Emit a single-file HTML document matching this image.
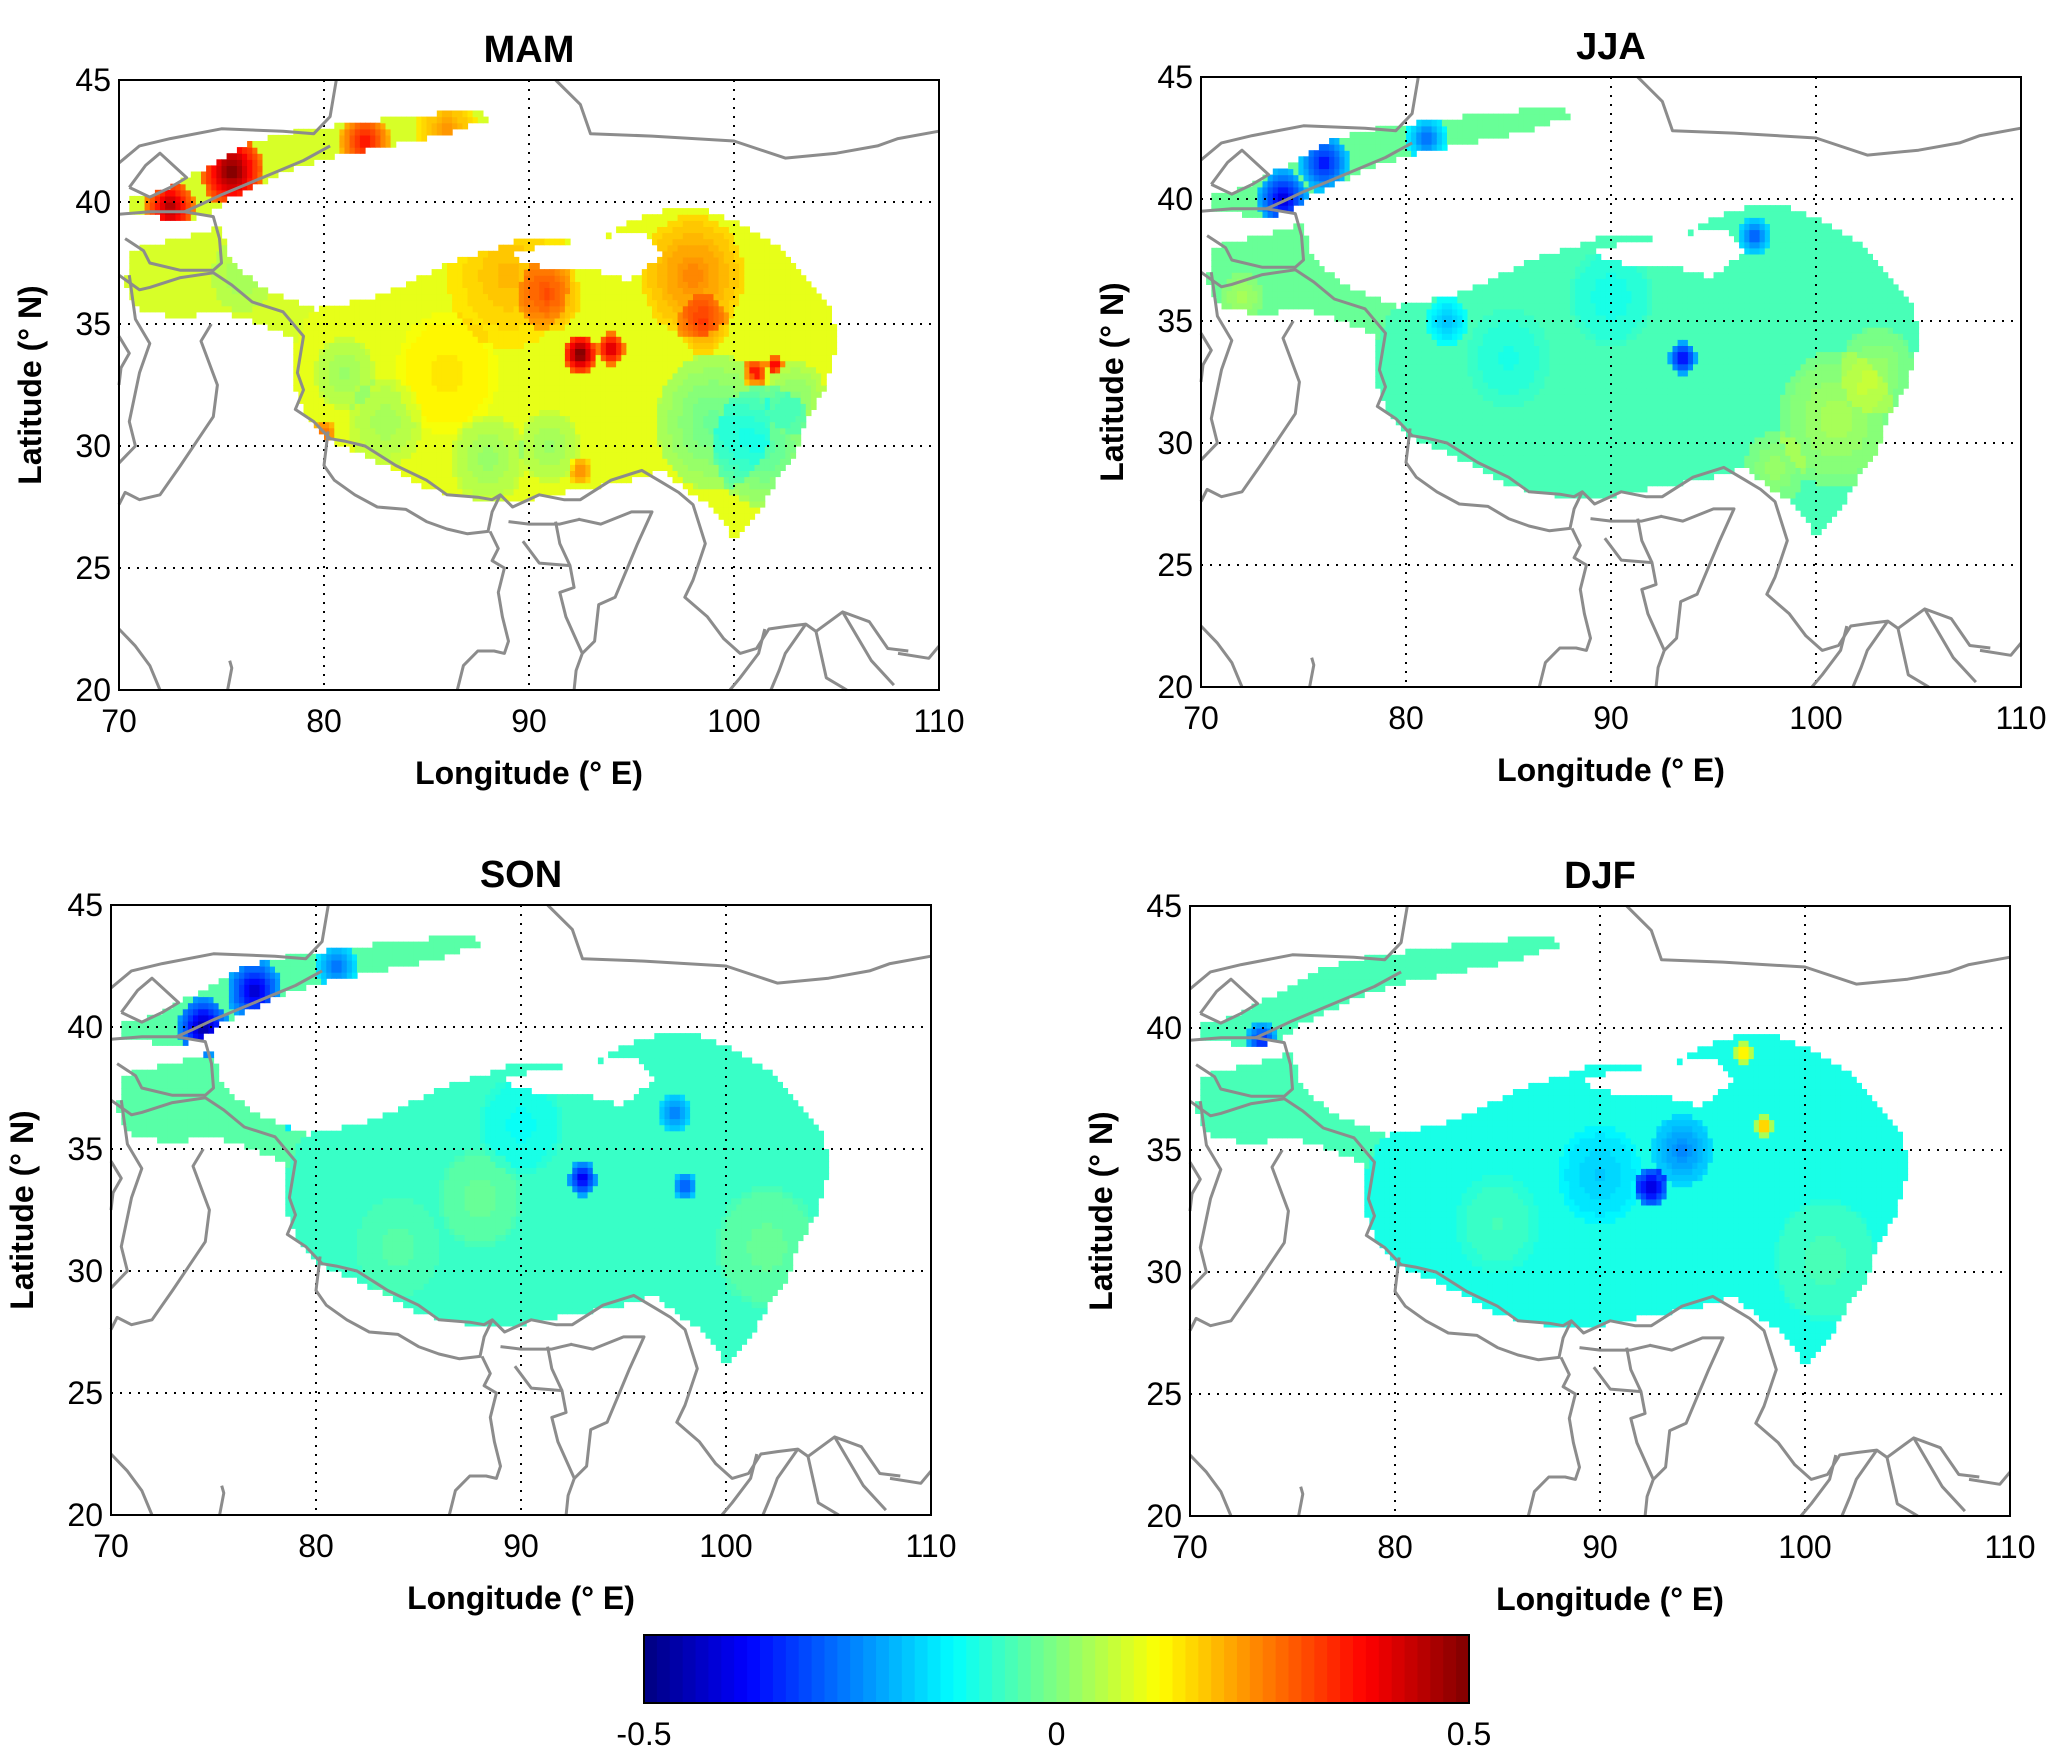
<!DOCTYPE html>
<html><head><meta charset="utf-8"><style>
body{margin:0;background:#fff;width:2067px;height:1764px;overflow:hidden}
svg{display:block;font-family:"Liberation Sans",Arial,sans-serif}
</style></head><body>
<svg id="fig" width="2067" height="1764" viewBox="0 0 2067 1764" xmlns="http://www.w3.org/2000/svg"></svg>
<script>
const seasons = ["MAM","JJA","SON","DJF"];
const seasonBase = [0.10, -0.05, -0.07, -0.1];
const xTicks = [70,80,90,100,110];
const yTicks = [20,25,30,35,40,45];
const cbTicks = [-0.5, 0, 0.5];
// plateau outline (lon,lat)
const plateauLon = [79.5,82,84,86,88,90,91.5,93,95,97,99,100.5,102,103.5,104.8,105,104.5,103.5,103,102,101,100,99,98,96.5,95,93,91,89,87,85,83,81.5,80,79,78.5,78.5,79];
const plateauLat = [35.6,36,36.6,37.5,38,38.6,38.6,38.3,39.2,39.8,39.6,39,38.3,37,35.5,34,32.5,31,29.5,28.5,27,26.2,27.5,28,29,28.6,28.3,28,27.7,27.9,28.3,29.2,29.8,30.3,31.5,32.5,34,35];
// Qaidam gap
const holeLon = [89,91,93,95,96.5,95.5,93,90.5];
const holeLat = [37.8,37.2,37.2,36.8,37.8,38.8,38.5,38.2];
// Tian Shan strip
const stripLon = [70.5,72.5,74,75.5,78,80,83,86,88,87.5,84,81,78,76,74,72,70.5];
const stripLat = [39.6,39.3,39.4,40.2,41.2,41.8,42.3,42.8,43.4,43.8,43.5,43.2,42.8,42.3,41.3,40.4,40.2];
// Pamir / Karakoram strip
const strip2Lon = [70.5,73,75,75.5,77,79,80,80,79,77,75,73,71,70.3];
const strip2Lat = [38,38.5,39,37.5,36.5,35.8,35.5,34.5,34.2,35,35.5,35.3,35.5,36.5];
// anomaly blobs per season: lon, lat, value, radius(deg)
const blobsMAM = [[72.5,39.8,0.4,1.2],[75.5,41.3,0.45,1.5],[82,42.5,0.3,1.2],[86,43,0.15,1.5],[92.5,33.8,0.45,0.8],[94,34,0.35,0.7],[89,37,0.1,3],[91,36.2,0.15,1.5],[98,37,0.15,2.5],[98.5,35,0.15,1.2],[101,33,0.3,0.6],[102,33.3,0.35,0.4],[99,31,-0.13,2.8],[101.5,30,-0.15,2.5],[103,32,-0.1,1.5],[86,33,0.05,2.5],[81,33,-0.08,1.5],[83,31,-0.07,1.8],[88,29.5,-0.08,1.8],[91,30,-0.08,1.5],[92.5,29,0.15,0.6],[80,30.5,0.2,0.6],[76,37,-0.05,1.5]];
const blobsJJA = [[74,40,-0.4,1.2],[76,41.5,-0.35,1.2],[81,42.5,-0.25,1],[93.5,33.5,-0.35,0.7],[97,38.5,-0.25,0.8],[85,33.5,-0.05,2],[101,31,0.1,2.8],[103,33,0.08,1.8],[98,29,0.08,1.5],[77.5,33,0.12,0.6],[82,35,-0.15,1],[90,36,-0.06,2],[72,36,0.08,1]];
const blobsSON = [[74.5,40,-0.45,1.2],[77,41.5,-0.4,1.3],[81,42.5,-0.25,1],[93,33.8,-0.35,0.7],[98,33.5,-0.25,0.6],[97.5,36.5,-0.2,0.8],[79,37,-0.25,1.2],[88,33,0.05,2],[102,31,0.05,2.5],[84,31,0.03,2],[90,36,-0.05,2]];
const blobsDJF = [[73.5,39.5,-0.3,0.8],[79,38,-0.35,0.8],[92.5,33.5,-0.35,0.8],[94,35,-0.15,1.5],[97,39,0.3,0.5],[98,36,0.35,0.4],[90,34,-0.08,2],[101,30.5,0.05,2.5],[85,32,0.04,2]];
const blobSets = [blobsMAM, blobsJJA, blobsSON, blobsDJF];

const panels = [{l:119,r:939,t:80,b:690},{l:1201,r:2021,t:77,b:687},{l:111,r:931,t:905,b:1515},{l:1190,r:2010,t:906,b:1516}];
const NS="http://www.w3.org/2000/svg";
const svg=document.getElementById('fig');
function el(tag,attrs,parent){const e=document.createElementNS(NS,tag);for(const k in attrs)e.setAttribute(k,attrs[k]);(parent||svg).appendChild(e);return e;}
function jet(v){let t=(v+0.5);t=Math.max(0,Math.min(0.999,t));t=(Math.floor(t*64)+0.5)/64;
 const c=x=>Math.round(255*Math.max(0,Math.min(1,x)));
 return `rgb(${c(1.5-Math.abs(4*t-3))},${c(1.5-Math.abs(4*t-2))},${c(1.5-Math.abs(4*t-1))})`;}
function inPoly(x,y,xs,ys){let c=false;for(let i=0,j=xs.length-1;i<xs.length;j=i++){if(((ys[i]>y)!=(ys[j]>y))&&(x<(xs[j]-xs[i])*(y-ys[i])/(ys[j]-ys[i])+xs[i]))c=!c;}return c;}
const borders=[
 [[91.3,45],[92.5,44],[93,42.8],[96,42.7],[100,42.5],[102.5,41.8],[105,42],[107,42.3],[108,42.6],[110,42.9]],
 [[70,41.6],[71,42.3],[72.5,42.6],[75,43],[78,42.9],[79.5,42.8],[80.3,43.5],[80.6,45]],
 [[73.2,39.6],[74,39.9],[75,40.3],[77,41],[79,41.7],[80.3,42.3]],
 [[70.5,40.6],[71.3,41.5],[72,42],[73.3,41],[72.5,40.6],[71.5,40.2],[70.5,40.6]],
 [[70,39.5],[71.5,39.6],[73.2,39.6],[74.6,39.4],[74.9,38.5],[75,37.5],[74.6,37.2],[73,37.2],[71.5,37.5],[71.2,38],[70.3,38.5]],
 [[70,37],[71,36.4],[71.5,36.5],[73,36.9],[74.6,37.1],[75.5,36.6],[76.5,35.9],[78,35.5],[79,34.5],[78.7,33],[79,32.3],[78.6,31.5],[79.5,31],[80.3,30.3],[81,30.2],[82,30],[83.5,29.2],[85,28.6],[86,28],[87.5,27.9],[88.2,27.8],[88.6,28],[89.2,27.5],[90.5,28],[91.7,27.8],[92.5,27.8],[94,28.6],[95.5,29],[96.5,28.5],[97.3,28.1],[98,27.6],[98.6,26],[98,24.5],[97.6,23.8],[98.7,23],[99.5,22.1],[100.3,21.5],[101.1,21.7],[101.7,22.5],[102.5,22.6],[103.5,22.7],[104,22.4],[105.3,23.2],[106.6,22.8],[107.5,21.7],[108.5,21.6]],
 [[70,34.5],[70.5,33.8],[70.1,33.2],[70,32.5]],
 [[70.5,37],[70.8,35.2],[71.5,34.2],[71,33],[70.5,31],[70.8,30],[70,29.3]],
 [[74.5,35],[74,34.3],[74.8,32.5],[74.6,31.2],[73.8,30.2],[73,29.2],[72,28],[71,27.8],[70.3,28.1],[70,27.6]],
 [[80.2,30.6],[80,29.2],[80.5,28.6],[81.5,28],[82.6,27.5],[84,27.4],[85,26.9],[86,26.6],[87,26.4],[88,26.5],[88.2,27.3],[88.6,28]],
 [[89,26.9],[90,26.8],[91.5,26.8],[92,26.9],[92.5,27]],
 [[88.1,26.5],[88.5,25.8],[88.2,25.3],[88.8,25],[88.5,24],[88.7,23],[89,22],[88.8,21.5],[88.3,21.6],[87.5,21.6],[86.8,21],[86.5,20]],
 [[89.7,26.1],[90.5,25.2],[92,25.1],[92.2,24.2],[91.5,24],[91.8,23],[92.6,21.5],[92.3,20.8],[92.2,20]],
 [[92.4,27],[93.5,26.8],[95,27.3],[96,27.3],[95.3,26],[94.8,25],[94.2,23.8],[93.4,23.5],[93.2,22],[92.6,21.5]],
 [[91.3,26.9],[91.5,26],[92,25.1]],
 [[101.5,22.5],[101.2,21.5],[100.3,20.5],[99.8,20]],
 [[103.5,22.7],[102.5,21.5],[102.2,20.8],[101.8,20]],
 [[104,22.4],[104.5,20.5],[105.5,20]],
 [[105.3,23.2],[106.7,21.2],[107.8,20.2]],
 [[70,22.5],[70.8,21.8],[71.5,21],[72,20]],
 [[75.3,20],[75.5,20.9],[75.4,21.2]],
 [[108,21.5],[109.5,21.3],[110,21.8]],
];
panels.forEach((p,si)=>{
 const g=el('g',{});
 
 
 const X=lon=>p.l+(lon-70)/40*(p.r-p.l), Y=lat=>p.b-(lat-20)/25*(p.b-p.t);
 const step=0.25;
 const cw=(p.r-p.l)/40*step, ch=(p.b-p.t)/25*step;
 const cells=el('g',{},g);
 
 
 const blobs=blobSets[si];
 for(let lon=70;lon<110;lon+=step){for(let lat=20;lat<45;lat+=step){
   const cx=lon+step/2,cy=lat+step/2;
   const inP=inPoly(cx,cy,plateauLon,plateauLat)&&!inPoly(cx,cy,holeLon,holeLat);
   const inS=inPoly(cx,cy,stripLon,stripLat)||inPoly(cx,cy,strip2Lon,strip2Lat);
   if(!inP&&!inS)continue;
   let v=seasonBase[si];
   if(inS&&!inP){v=seasonBase[si]*(si==0?0.8:0.6);}
   for(const b of blobs){const d=Math.hypot(cx-b[0],cy-b[1]);if(d<b[3])v+=b[2]*(1-d/b[3]*0.6);}
   el('rect',{x:X(lon).toFixed(1),y:Y(lat+step).toFixed(1),width:(cw+0.6).toFixed(1),height:(ch+0.6).toFixed(1),fill:jet(v)},cells);
 }}
 const grid=el('g',{stroke:'#000','stroke-width':2,'stroke-dasharray':'2,7'},g);
 
 
 xTicks.slice(1,-1).forEach(t=>el('line',{x1:X(t),x2:X(t),y1:p.t,y2:p.b},grid));
 yTicks.slice(1,-1).forEach(t=>el('line',{x1:p.l,x2:p.r,y1:Y(t),y2:Y(t)},grid));
 const bg=el('g',{fill:'none',stroke:'#8c8c8c','stroke-width':3,'stroke-linejoin':'round'},g);
 
 
 borders.forEach(line=>el('polyline',{points:line.map(q=>X(q[0]).toFixed(1)+','+Y(q[1]).toFixed(1)).join(' ')},bg));
 const fr=el('rect',{x:p.l,y:p.t,width:p.r-p.l,height:p.b-p.t,fill:'none',stroke:'#000','stroke-width':2},g);
 
 
 xTicks.forEach(t=>{const tx=el('text',{x:X(t),y:p.b+42,'font-size':32,'text-anchor':'middle'},g);tx.textContent=t;
  });
 yTicks.forEach(t=>{const tx=el('text',{x:p.l-8,y:Y(t)+11,'font-size':32,'text-anchor':'end'},g);tx.textContent=t;
  });
 const ti=el('text',{x:(p.l+p.r)/2,y:p.t-18,'font-size':38,'font-weight':'bold','text-anchor':'middle'},g);ti.textContent=seasons[si];
 
 const xl=el('text',{x:(p.l+p.r)/2+(si==3?10:0),y:p.b+94,'font-size':32,'font-weight':'bold','text-anchor':'middle','xml:space':'preserve'},g);xl.textContent='Longitude  (\u00B0 E)';
 
 const yx=p.l-78,yy=(p.t+p.b)/2;
 const yl=el('text',{x:yx,y:yy,'font-size':32,'font-weight':'bold','text-anchor':'middle',transform:`rotate(-90 ${yx} ${yy})`,'xml:space':'preserve'},g);yl.textContent='Latitude  (\u00B0 N)';
 
});
const cb=el('g',{});


const cbL=644,cbR=1469,cbT=1635,cbB=1703;
for(let i=0;i<64;i++){const v=-0.5+(i+0.5)/64;
 el('rect',{x:cbL+i*(cbR-cbL)/64,y:cbT,width:(cbR-cbL)/64+0.6,height:cbB-cbT,fill:jet(v)},cb);}
el('rect',{x:cbL,y:cbT,width:cbR-cbL,height:cbB-cbT,fill:'none',stroke:'#000','stroke-width':2},cb);
cbTicks.forEach(t=>{const x=cbL+(t+0.5)*(cbR-cbL);
 const tx=el('text',{x:x,y:cbB+42,'font-size':32,'text-anchor':'middle'},cb);tx.textContent=t;
 });
</script>
</body></html>
